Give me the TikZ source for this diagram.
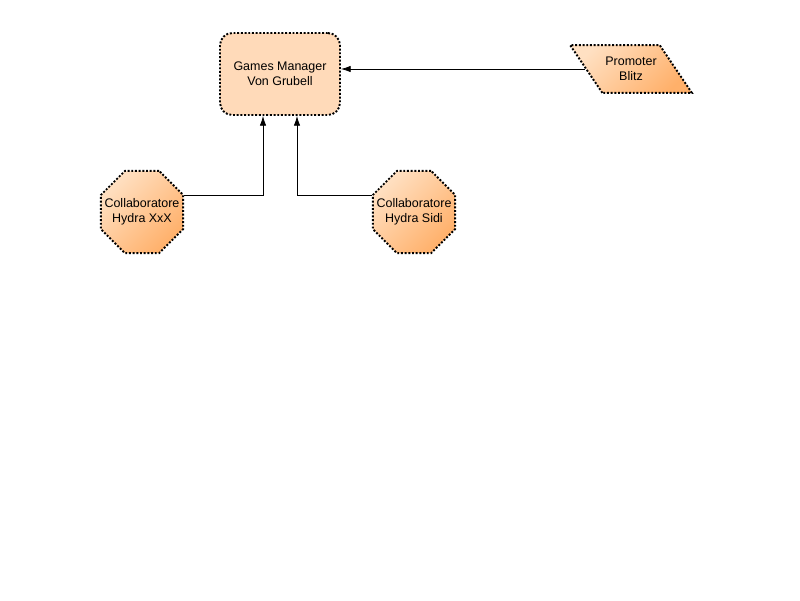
\documentclass[tikz,border=0pt]{standalone}
\usepackage{fontspec}
\setmainfont{Liberation Sans}
\usetikzlibrary{shapes.geometric,arrows.meta}
\definecolor{peach}{HTML}{FFDAB9}
\definecolor{orlight}{HTML}{FFE0C2}
\definecolor{ordark}{HTML}{FFB06A}
\begin{document}
\begin{tikzpicture}[
    box/.style={draw, densely dotted, line width=1.1pt, align=center,
      font=\fontsize{7.1}{8.6}\selectfont, inner sep=0pt},
    grad/.style={left color=orlight, right color=ordark, shading angle=45},
    conn/.style={draw, line width=0.4pt, -{Latex[length=5.5pt,width=3.6pt]}}]

      \useasboundingbox (0,0) rectangle (16,-12);

      \node[box, rounded corners=7pt, fill=peach,
            minimum width=2.4cm, minimum height=1.64cm] (gm) at (5.6,-1.48)
            {Games Manager\\Von Grubell};

      \node[box, trapezium, trapezium left angle=124, trapezium right angle=56,
            grad, inner xsep=0.06cm, inner ysep=0.24cm] (promoter) at (12.62,-1.38)
            {Promoter\\Blitz};

      \begin{scope}[every node/.style={box, regular polygon, regular polygon sides=8,
            inner sep=-0.4cm, minimum size=1.78cm, grad}]
        \node (xxx)  at (2.84,-4.24) {Collaboratore\\Hydra XxX};
        \node (sidi) at (8.28,-4.24) {Collaboratore\\Hydra Sidi};
      \end{scope}

      \path[conn] (promoter.west) -- (promoter.west -| gm.east);
      \path[conn] ([yshift=0.34cm]xxx.east) -| ([xshift=-0.34cm]gm.south);
      \path[conn] ([yshift=0.34cm]sidi.west) -| ([xshift=0.34cm]gm.south);

    \end{tikzpicture}
\end{document}
